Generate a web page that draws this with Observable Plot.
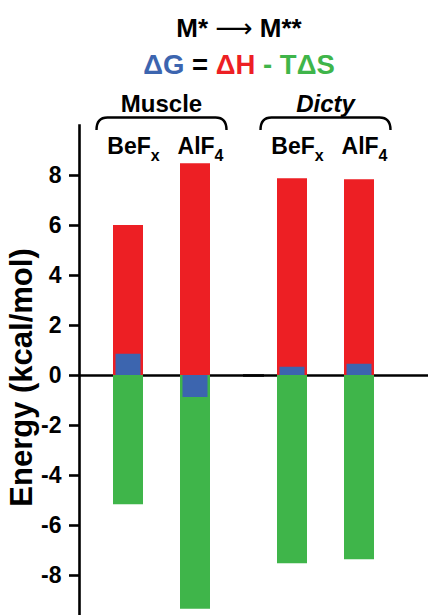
<!DOCTYPE html>
<html>
<head>
<meta charset="utf-8">
<script src="https://cdn.jsdelivr.net/npm/d3@7"></script>
<script src="https://cdn.jsdelivr.net/npm/@observablehq/plot@0.6"></script>
<style>
  html, body { margin: 0; padding: 0; background: #fff; }
  #head { position: relative; width: 428px; height: 85px; }
  #head .t { position: absolute; left: 50px; width: 378px; text-align: center;
    font: bold 26px/1 "Liberation Sans", Arial, sans-serif; color: #000; white-space: nowrap; }
  .arrow { font-weight: normal; font-family: "DejaVu Sans", sans-serif; }
  #chart svg { display: block; }
  #chart g[aria-label="y-axis label"] text, #chart g[aria-label="y-axis label"] { font-size: 31px; }
</style>
</head>
<body>
<div id="head">
  <div class="t" style="top:15px">M* <span class="arrow">⟶</span> M**</div>
  <div class="t" style="top:51px;font-size:27.5px"><span style="color:#3c65af">ΔG</span> = <span style="color:#ed1f24">ΔH</span> <span style="color:#3fb54a">- TΔS</span></div>
</div>
<div id="chart"></div>
<script>
// ---- data ----
const groups = ["Muscle", "Dicty"];
const forms = ["BeFx", "AlF4"];
const dH   = [6.0, 8.47, 7.87, 7.83];     // red, ΔH
const mTdS = [-5.17, -9.35, -7.53, -7.37]; // green, -TΔS
const dG   = [0.85, -0.88, 0.33, 0.45];   // blue, ΔG
const yTicks = [-8, -6, -4, -2, 0, 2, 4, 6, 8];
const yLabel = "Energy (kcal/mol)";

const RED = "#ed1f24", GREEN = "#3fb54a", BLUE = "#3c65af";

const rows = groups.flatMap((g, i) => forms.map((f, j) => ({
  group: g, form: f, dH: dH[i * 2 + j], mTdS: mTdS[i * 2 + j], dG: dG[i * 2 + j]
})));

const axisOpts = {
  ticks: yTicks, tickSize: 10, tickPadding: 8, tickFormat: d => String(d),
  label: yLabel, labelAnchor: "center", labelOffset: 70, labelArrow: "none"
};
const hasAxisMarks = typeof Plot.axisY === "function";

const plot = Plot.plot({
  width: 428,
  height: 530,
  marginTop: 40,
  marginBottom: 0,
  marginLeft: 79,
  marginRight: 21,
  style: { fontFamily: "'Liberation Sans', Arial, sans-serif", fontWeight: "bold", fontSize: "23px", color: "#000", background: "#fff", overflow: "visible" },
  fx: { domain: groups, padding: 0, axis: null },
  x: { domain: forms, paddingInner: 0.556, paddingOuter: 0.491, axis: null },
  y: hasAxisMarks ? { domain: [-9.6, 10] } : { domain: [-9.6, 10], line: true, ...axisOpts },
  marks: [
    ...(hasAxisMarks ? [
      Plot.axisY({ ...axisOpts, strokeWidth: 2.6 }),
      Plot.frame({ anchor: "left", facetAnchor: "left", strokeWidth: 2.6 })
    ] : []),
    Plot.ruleY([0], { stroke: "#000", strokeWidth: 2.6, insetRight: -21 }),
    Plot.barY(rows, { fx: "group", x: "form", y1: 0, y2: "dH", fill: RED }),
    Plot.barY(rows, { fx: "group", x: "form", y1: 0, y2: "mTdS", fill: GREEN }),
    Plot.barY(rows, { fx: "group", x: "form", y1: 0, y2: "dG", fill: BLUE, insetLeft: 2.5, insetRight: 2.5 }),
    Plot.text(groups.filter(g => g === "Muscle"), { fx: d => d, text: d => d, frameAnchor: "top", lineAnchor: "bottom", dy: -14, fontSize: 24, fontWeight: "bold" }),
    Plot.text(groups.filter(g => g === "Dicty"), { fx: d => d, text: d => d, frameAnchor: "top", lineAnchor: "bottom", dy: -14, fontSize: 24, fontWeight: "bold", fontStyle: "italic" }),
    Plot.text(rows, { fx: "group", x: "form", text: "form", frameAnchor: "top", lineAnchor: "bottom", dy: 28, dx: 5, fontSize: 23, fontWeight: "bold" })
  ]
});

document.getElementById("chart").appendChild(plot);

// y-axis label: larger and nudged down a little, as in the reference
Array.from(plot.querySelectorAll("text"))
  .filter(t => t.textContent === yLabel)
  .forEach(t => { t.setAttribute("font-size", 31); t.style.fontSize = "31px"; t.setAttribute("dx", -7); });

// subscripts on the x labels (last character)
Array.from(plot.querySelectorAll("text"))
  .filter(el => forms.includes(el.textContent))
  .forEach(node => {
    const t = node.textContent;
    const el = d3.select(node);
    el.text(null);
    el.append("tspan").text(t.slice(0, -1));
    el.append("tspan").attr("font-size", 16).attr("dy", 7).text(t.slice(-1));
  });

// braces above each group, placed from the rendered red bars
(function drawBraces() {
  const svgBox = plot.getBoundingClientRect();
  const target = d3.color(RED).toString();
  const redRects = Array.from(plot.querySelectorAll("rect"))
    .filter(r => d3.color(getComputedStyle(r).fill) + "" === target)
    .map(r => r.getBoundingClientRect())
    .map(b => ({ left: b.left - svgBox.left, right: b.right - svgBox.left }))
    .sort((a, b) => a.left - b.left);
  const yr = plot.scale("y").range;
  const braceTop = Math.min(...yr) - 7.5;
  for (let k = 0; k + 1 < redRects.length; k += 2) {
    const x0 = redRects[k].left - 16.5, x1 = redRects[k + 1].right + 16.5, r = 11, h = 12.5;
    d3.select(plot).append("path")
      .attr("d", `M${x0},${braceTop + h} Q${x0},${braceTop} ${x0 + r},${braceTop} H${x1 - r} Q${x1},${braceTop} ${x1},${braceTop + h}`)
      .attr("fill", "none").attr("stroke", "#000").attr("stroke-width", 2.4);
  }
})();
</script>
</body>
</html>
